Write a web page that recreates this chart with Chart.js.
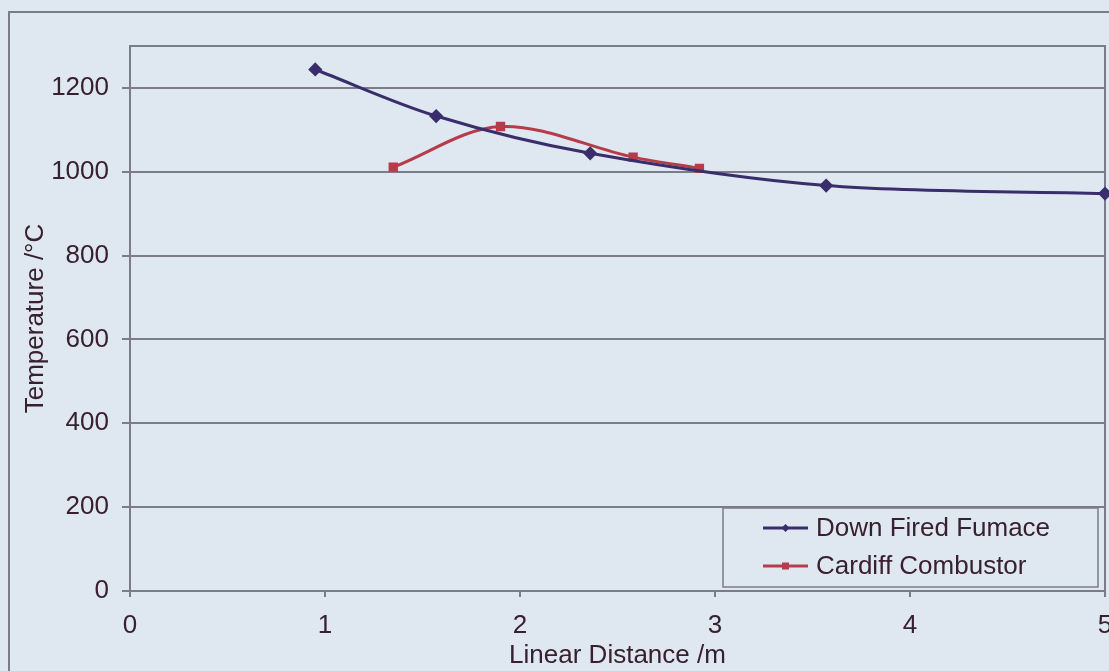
<!DOCTYPE html>
<html>
<head>
<meta charset="utf-8">
<script src="https://cdn.jsdelivr.net/npm/chart.js@4/dist/chart.umd.min.js"></script>
<style>
	html, body { margin: 0; padding: 0; background: #dfe8f0; overflow: hidden; width: 1109px; height: 671px; }
	#frame { position: absolute; left: 8px; top: 11px; width: 1200px; height: 800px; border: 2px solid #7c7c86; }
	#chart { position: absolute; left: 0; top: 0; }
</style>
</head>
<body>
<div id="frame"></div>
<canvas id="chart" width="1113" height="671"></canvas>
<script>
	/* values */
	const furnace_x = [0.95, 1.57, 2.36, 3.57, 5.0];
	const furnace_y = [1244, 1133, 1044, 967, 948];
	const cardiff_x = [1.35, 1.90, 2.58, 2.92];
	const cardiff_y = [1011, 1108, 1035, 1008];
	const series_labels = ['Down Fired Fumace', 'Cardiff Combustor'];
	const x_ticks = [0, 1, 2, 3, 4, 5];
	const y_ticks = [0, 200, 400, 600, 800, 1000, 1200];

	const text_color = '#38202e';
	const grid_color = '#7c7c86';
	const font_family = '"Liberation Sans", Arial, sans-serif';

	function to_points(xs, ys) {
		return xs.map((x, i) => ({ x: x, y: ys[i] }));
	}

	// plot frame + legend box drawn inside the plot area, like the Excel original
	const frame_plugin = {
		id: 'frame_plugin',
		beforeDatasetsDraw(chart) {
			let a = chart.chartArea, ctx = chart.ctx;
			ctx.save();
			ctx.strokeStyle = grid_color;
			ctx.lineWidth = 2;
			ctx.strokeRect(a.left, a.top, a.right - a.left, a.bottom - a.top);
			ctx.restore();
		},
		afterDraw(chart) {
			let a = chart.chartArea, ctx = chart.ctx;
			let w = 375, h = 79;
			let bx = a.right - 7 - w, by = a.bottom - 4 - h;
			ctx.save();
			ctx.fillStyle = '#dfe8f0';
			ctx.fillRect(bx, by, w, h);
			ctx.strokeStyle = grid_color;
			ctx.lineWidth = 1.5;
			ctx.strokeRect(bx, by, w, h);
			ctx.font = '26px ' + font_family;
			ctx.textBaseline = 'middle';
			chart.data.datasets.forEach((ds, i) => {
				let cy = by + 20 + i * 38;
				let x0 = bx + 40, x1 = bx + 85;
				ctx.strokeStyle = ds.borderColor;
				ctx.lineWidth = 3;
				ctx.beginPath();
				ctx.moveTo(x0, cy);
				ctx.lineTo(x1, cy);
				ctx.stroke();
				ctx.fillStyle = ds.pointBackgroundColor;
				let mx = (x0 + x1) / 2;
				ctx.beginPath();
				if (ds.pointStyle === 'rectRot') {
					ctx.moveTo(mx, cy - 4); ctx.lineTo(mx + 4, cy); ctx.lineTo(mx, cy + 4); ctx.lineTo(mx - 4, cy);
				} else {
					ctx.rect(mx - 3.5, cy - 3.5, 7, 7);
				}
				ctx.closePath();
				ctx.fill();
				ctx.fillStyle = text_color;
				ctx.fillText(ds.label, x1 + 8, cy + 1);
			});
			ctx.restore();
		}
	};

	const ctx = document.getElementById('chart').getContext('2d');
	new Chart(ctx, {
		type: 'line',
		data: {
			datasets: [{
				label: series_labels[0],
				data: to_points(furnace_x, furnace_y),
				borderColor: '#3a2d6c',
				backgroundColor: '#3a2d6c',
				pointBackgroundColor: '#3a2d6c',
				pointBorderColor: '#3a2d6c',
				pointStyle: 'rectRot',
				pointRadius: 5,
				borderWidth: 3,
				tension: 0.33
			}, {
				label: series_labels[1],
				data: to_points(cardiff_x, cardiff_y),
				borderColor: '#b53c48',
				backgroundColor: '#b53c48',
				pointBackgroundColor: '#b53c48',
				pointBorderColor: '#b53c48',
				pointStyle: 'rect',
				pointRadius: 4.5,
				borderWidth: 3,
				tension: 0.33
			}]
		},
		options: {
			responsive: false,
			animation: false,
			clip: false,
			layout: { padding: { left: 0, top: 46, right: 0, bottom: 0 } },
			plugins: {
				legend: { display: false },
				tooltip: { enabled: false }
			},
			scales: {
				x: {
					type: 'linear',
					min: x_ticks[0],
					max: x_ticks[x_ticks.length - 1],
					afterBuildTicks: axis => { axis.ticks = x_ticks.map(v => ({ value: v })); },
					afterFit: axis => { axis.height = 80; axis.paddingRight = 0; },
					grid: { drawOnChartArea: false, tickLength: 6, color: grid_color, lineWidth: 2 },
					border: { display: false },
					ticks: { color: text_color, font: { family: font_family, size: 26 }, padding: 13, maxRotation: 0, callback: v => String(v) },
					title: { display: true, text: 'Linear Distance /m', color: text_color, font: { family: font_family, size: 26 }, padding: { top: 0, bottom: 0 } }
				},
				y: {
					min: 0,
					max: 1300,
					afterBuildTicks: axis => { axis.ticks = y_ticks.map(v => ({ value: v })); },
					afterFit: axis => { axis.width = 130; },
					grid: { tickLength: 8, color: grid_color, lineWidth: 2 },
					border: { display: false },
					ticks: { color: text_color, font: { family: font_family, size: 26 }, padding: 13, callback: v => String(v) },
					title: { display: true, text: 'Temperature /\u00B0C', color: text_color, font: { family: font_family, size: 26 }, padding: { top: 20, bottom: 0 } }
				}
			}
		},
		plugins: [frame_plugin]
	});
</script>
</body>
</html>
